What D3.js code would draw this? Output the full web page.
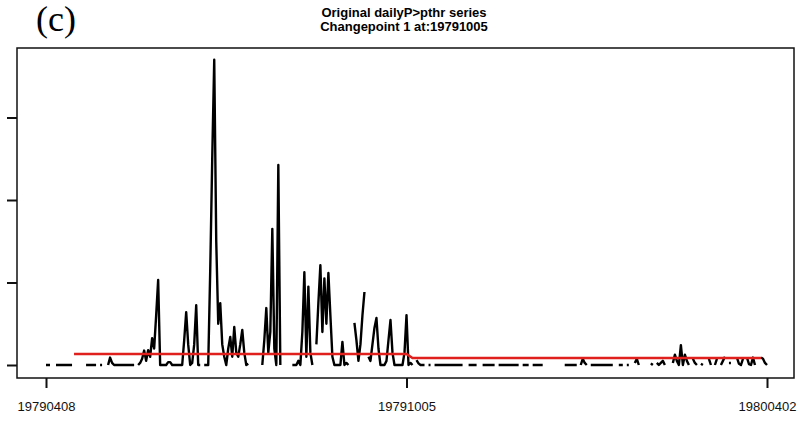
<!DOCTYPE html>
<html>
<head>
    <title>Changepoint series</title>
    <script src="https://d3js.org/d3.v7.min.js"></script>
    <style>
        body { margin: 0; background: #fff; }
        .title { font-family: "Liberation Sans", Arial, sans-serif; font-weight: bold; font-size: 13px; }
        .tick-label { font-family: "Liberation Sans", Arial, sans-serif; font-size: 13px; }
        .panel { font-family: "Liberation Serif", "Times New Roman", serif; font-size: 36px; }
    </style>
</head>
<body>
<script>
    var w = 806;
    var h = 422;

    // data
    var startDay = "19790408";
    var xTickLabels = ["19790408", "19791005", "19800402"];
    var yTicks = [0, 20, 40, 60];
    var titleLines = ["Original dailyP>pthr series", "Changepoint 1 at:19791005"];

    var _ = null; // missing day
    var precip = [
        0, 0, 0, _, _, 0, 0, 0, 0, 0, 0, 0, 0, 0, _, _, _, _, _, _,
        0, 0, 0, 0, 0, 0, _, 0, 0, _, _, 0, 1.8, 0.5, 0, 0, 0, 0, 0, 0,
        0, 0, 0, 0, 0, _, 0, 0.5, 1.5, 3.5, 1, 3.6, 2, 6.5, 4, 12, 20.6, 0, 0, 0,
        0, 0.7, 0.7, 0, 0, 0, 0, 0, 0, 6, 12.8, 5, 0, 0.5, 5, 14.5, 0, 0, _, 0,
        0, 0, 23, 50, 74, 30, 10, 15, 5, 2, 0, 4, 6.8, 2, 9.2, 3, 2, 5, 8.5, 3,
        0, 0.3, _, _, _, _, _, _, 0, 6, 13.8, 3, 8, 33, 4, 0, 48.5, 0, _, _,
        _, _, _, 0, 0, 0, 1, 0, 8, 22.5, 2, 19, 3, 0, _, 5, 15, 24.2, 8, 21,
        10, 22.3, 12, 2, 0, 0, 0, 0, 5.6, 0, 0.5, 0, _, _, 10.2, 6, 1, 5, 12, 17.7,
        _, 2, 1, 5, 9, 11.4, 4, 0, 0, 0, 1, 6, 10.9, 3, 0, 0, 0, 0, 0, 3,
        12.1, 0, 0.5, 0, _, 1.2, 0.4, 0, 0, 0, _, 0, 0, _, 0, 0, 0, 0, 0, 0,
        0, 0, 0, 0, 0, 0, 0, 0, 0, _, _, 0, 0, 0, 0, 0, _, _, 0, 0,
        0, 0, 0, 0, 0, _, 0, 0, 0, 0, 0, 0, 0, 0, 0, 0, 0, _, 0, 0,
        0, 0, _, 0, 0, 0, 0, 0, 0, _, _, _, _, _, _, _, _, _, _, 0,
        0, 0, 0, 0, 0, 0, _, 0, 1.5, 0.5, 0, _, 0, 0, 0, 0, 0, 0, 0, 0,
        0, 0, 0, 0, _, _, 0, 0, 0, _, 0, 0, _, _, 0.5, 1.5, 0, _, _, _,
        _, _, 0.4, 0, _, 0.5, 0, 0.5, 1, 0, _, _, _, 0.5, 2.5, 1, 0, 4.8, 0, 2.5,
        1, 0, _, 1.5, 0.5, 0, _, 0.3, 0, _, _, 1.5, 0, _, 0, 1.5, _, 0, 1, 2,
        _, 0.5, 0.5, _, _, 1.8, 0.3, 0, 1.5, _, 1.8, 0.2, 0, 1.8, 0, _, _, 1.8, 1.5, 0.5,
        0
    ];

    // fitted means before / after the changepoint
    var meanDays = [14, 180, 183, 357];
    var meanValues = [2.67, 2.67, 1.7, 1.7];

    var parseDay = d3.timeParse("%Y%m%d");
    var start = parseDay(startDay);
    function dayOf(i) { return d3.timeDay.offset(start, i); }

    var x = d3.scaleTime()
        .domain([parseDay(xTickLabels[0]), parseDay(xTickLabels[2])])
        .range([46, 767]);
    var y = d3.scaleLinear().domain([0, 60]).range([365, 117.5]);

    var svg = d3.select("body")
        .append("svg")
        .attr("width", w)
        .attr("height", h);

    // panel letter and titles
    svg.append("text")
        .attr("class", "panel")
        .attr("x", 36)
        .attr("y", 31)
        .text("(c)");

    svg.selectAll(".title")
        .data(titleLines)
        .enter()
        .append("text")
        .attr("class", "title")
        .attr("x", 404)
        .attr("y", function (d, i) { return 17 + i * 14; })
        .attr("text-anchor", "middle")
        .text(function (d) { return d; });

    // plot frame
    svg.append("rect")
        .attr("x", 17)
        .attr("y", 48)
        .attr("width", 777)
        .attr("height", 330)
        .attr("fill", "none")
        .attr("stroke", "#111")
        .attr("stroke-width", 1.5);

    // x axis
    var xAxis = d3.axisBottom(x)
        .tickValues(xTickLabels.map(parseDay))
        .tickFormat(d3.timeFormat("%Y%m%d"))
        .tickSize(10)
        .tickPadding(14);

    var gx = svg.append("g")
        .attr("transform", "translate(0,378)")
        .call(xAxis);
    gx.select(".domain").remove();
    gx.selectAll("line").attr("stroke", "#111").attr("stroke-width", 2);
    gx.selectAll("text")
        .attr("class", "tick-label")
        .attr("fill", "#111")
        .style("font-size", "13px")
        .style("font-family", "'Liberation Sans', Arial, sans-serif");

    // y axis, ticks only (labels are outside the picture)
    var yAxis = d3.axisLeft(y)
        .tickValues(yTicks)
        .tickSize(10)
        .tickFormat("");

    var gy = svg.append("g")
        .attr("transform", "translate(17,0)")
        .call(yAxis);
    gy.select(".domain").remove();
    gy.selectAll("line").attr("stroke", "#111").attr("stroke-width", 2);

    // daily series
    var line = d3.line()
        .defined(function (d) { return d !== null; })
        .x(function (d, i) { return x(dayOf(i)); })
        .y(function (d) { return y(d); });

    svg.append("path")
        .datum(precip)
        .attr("fill", "none")
        .attr("stroke", "#000")
        .attr("stroke-width", 2.4)
        .attr("stroke-linejoin", "round")
        .attr("d", line);

    // changepoint means
    var meanLine = d3.line()
        .x(function (d) { return x(dayOf(d)); })
        .y(function (d, i) { return y(meanValues[i]); });

    svg.append("path")
        .datum(meanDays)
        .attr("fill", "none")
        .attr("stroke", "#e0201c")
        .attr("stroke-width", 2.5)
        .attr("d", meanLine);
</script>
</body>
</html>
